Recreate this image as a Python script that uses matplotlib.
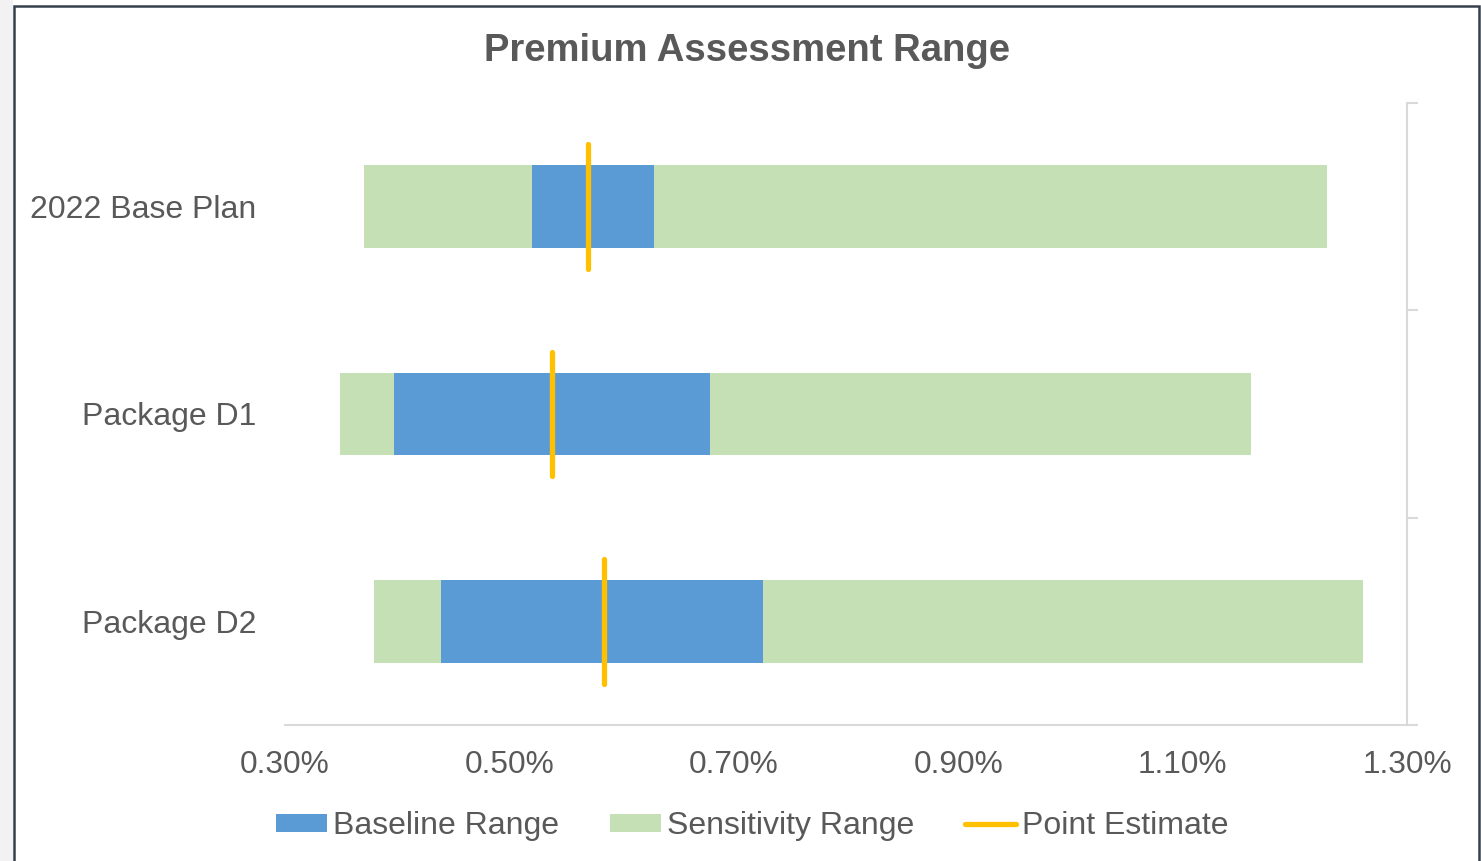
import matplotlib.pyplot as plt
from matplotlib.patches import Rectangle, Patch
from matplotlib.lines import Line2D
from matplotlib.ticker import FuncFormatter, FixedLocator

plt.rcParams["font.family"] = ["Liberation Sans", "DejaVu Sans"]

# values in percent, bottom to top
categories = ["Package D2", "Package D1", "2022 Base Plan"]
sens_low = [0.379, 0.349, 0.37]
sens_high = [1.261, 1.161, 1.229]
base_low = [0.439, 0.397, 0.52]
base_high = [0.726, 0.679, 0.629]
point_est = [0.584, 0.538, 0.57]
x_ticks = [0.3, 0.5, 0.7, 0.9, 1.1, 1.3]

TEXT = "#595959"
BLUE = "#5B9BD5"
GREEN = "#C5E0B4"
GOLD = "#FFC000"
AXIS = "#D9D9D9"

W, H = 1481, 861
fig = plt.figure(figsize=(W / 100, H / 100), dpi=100)
ax = fig.add_axes([285 / W, 1 - 725 / H, (1407 - 285) / W, (725 - 103) / H])

y = list(range(len(categories)))
ax.barh(y, [h - l for l, h in zip(sens_low, sens_high)], left=sens_low,
        height=0.4, color=GREEN, zorder=2)
ax.barh(y, [h - l for l, h in zip(base_low, base_high)], left=base_low,
        height=0.4, color=BLUE, zorder=3)
ax.vlines(point_est, [i - 0.3 for i in y], [i + 0.3 for i in y],
          color=GOLD, linewidth=3.8, capstyle="round", zorder=4)

ax.set_xlim(0.3, 1.3)
ax.set_ylim(-0.5, 2.5)
ax.set_xticks(x_ticks)
ax.xaxis.set_major_formatter(FuncFormatter(lambda v, p: f"{v:.2f}%"))
ax.tick_params(axis="x", length=0, pad=18, labelsize=22.8, labelcolor=TEXT)

ax.set_yticks(y)
ax.set_yticklabels(categories)
ax.yaxis.set_minor_locator(FixedLocator([-0.5, 0.5, 1.5, 2.5]))
ax.tick_params(axis="y", which="major", left=False, right=False,
               pad=17, labelsize=23, labelcolor=TEXT)
ax.tick_params(axis="y", which="minor", left=False, right=True,
               direction="out", length=8, width=1.5, color=AXIS)

for side in ["top", "left"]:
    ax.spines[side].set_visible(False)
for side in ["bottom", "right"]:
    ax.spines[side].set_color(AXIS)
    ax.spines[side].set_linewidth(1.5)

fig.text(747 / W, 1 - 51 / H, "Premium Assessment Range", ha="center",
         va="center", fontsize=27.5, fontweight="bold", color=TEXT)

handles = [
    Patch(facecolor=BLUE, label="Baseline Range"),
    Patch(facecolor=GREEN, label="Sensitivity Range"),
    Line2D([0], [0], color=GOLD, linewidth=3.8, solid_capstyle="round",
           label="Point Estimate"),
]
leg = fig.legend(handles=handles, loc="center", ncol=3,
                 bbox_to_anchor=(752 / W, 1 - 826 / H), frameon=False,
                 fontsize=23, handlelength=1.6, handleheight=0.5,
                 handletextpad=0.18, columnspacing=1.6, borderaxespad=0)
for t in leg.get_texts():
    t.set_color(TEXT)

# page edge and chart border
fig.patches.append(Rectangle((0, 0), 13 / W, 1, transform=fig.transFigure,
                             facecolor="#F2F2F2", edgecolor="none"))
fig.patches.append(Rectangle((14 / W, -0.05), (1479 - 14) / W, 1.05 - 6 / H,
                             transform=fig.transFigure, facecolor="none",
                             edgecolor="#36404C", linewidth=1.8))

fig.savefig("out.png", dpi=100)
